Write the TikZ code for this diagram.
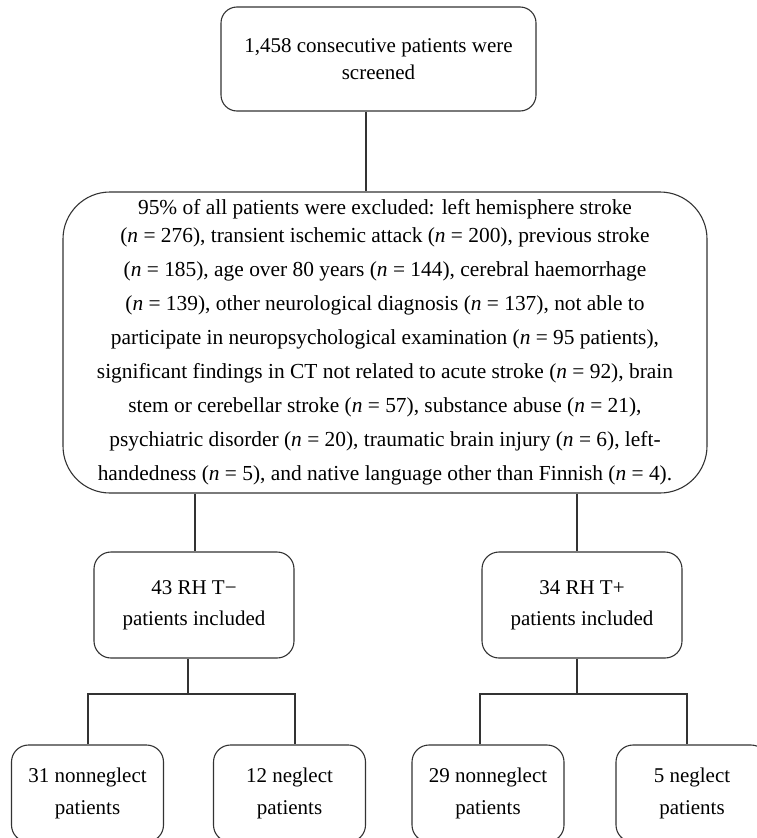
\documentclass[tikz,border=0pt]{standalone}
\usepackage{fontspec}
\setmainfont{Liberation Serif}
\begin{document}
\begin{tikzpicture}[x=1pt,y=-1pt,
  box/.style={draw=black!80, line width=1.1pt, rounded corners=#1, inner sep=0pt,
    align=center, font=\fontsize{21}{27}\selectfont},
  box/.default=17pt,
  conn/.style={draw=black!80, line width=1.1pt}]
\useasboundingbox (0,0) rectangle (757,838);

\node[box=16pt, minimum width=315pt, minimum height=104pt] (top) at (378.5,59)
  {1,458 consecutive patients were\\screened};

\node[box=47pt, minimum width=644pt, minimum height=301pt,
      font=\fontsize{21.4}{27}\selectfont] (excl) at (385,342.5)
  {95\% of all patients were excluded: left hemisphere stroke\\[1pt]
   (\textit{n}~=~276), transient ischemic attack (\textit{n}~=~200), previous stroke\\[7pt]
   (\textit{n}~=~185), age over 80 years (\textit{n}~=~144), cerebral haemorrhage\\[7pt]
   (\textit{n}~=~139), other neurological diagnosis (\textit{n}~=~137), not able to\\[7pt]
   participate in neuropsychological examination (\textit{n}~=~95 patients),\\[7pt]
   significant findings in CT not related to acute stroke (\textit{n}~=~92), brain\\[7pt]
   stem or cerebellar stroke (\textit{n}~=~57), substance abuse (\textit{n}~=~21),\\[7pt]
   psychiatric disorder (\textit{n}~=~20), traumatic brain injury (\textit{n}~=~6), left-\\[7pt]
   handedness (\textit{n}~=~5), and native language other than Finnish (\textit{n}~=~4).};

\node[box, minimum width=200pt, minimum height=106pt] (lm) at (194,605)
  {43 RH T−\\[4pt]patients included};
\node[box, minimum width=200pt, minimum height=106pt] (rm) at (582,605)
  {34 RH T+\\[4pt]patients included};

\node[box, minimum width=152pt, minimum height=97pt] (b1) at (87.5,793.5)
  {31 nonneglect\\[5pt]patients};
\node[box, minimum width=152pt, minimum height=97pt] (b2) at (289.5,793.5)
  {12 neglect\\[5pt]patients};
\node[box, minimum width=152pt, minimum height=97pt] (b3) at (488,793.5)
  {29 nonneglect\\[5pt]patients};
\node[box, minimum width=152pt, minimum height=97pt] (b4) at (692,793.5)
  {5 neglect\\[5pt]patients};

\coordinate (c0) at (366,0);
\coordinate (cL) at (195,0);
\coordinate (cR) at (577,0);
\coordinate (jL) at (188,694);
\coordinate (jR) at (577,694);
\coordinate (k1) at (88,694);
\coordinate (k2) at (295,694);
\coordinate (k3) at (480,694);
\coordinate (k4) at (687,694);

\draw[conn] (top.south -| c0) -- (excl.north -| c0);
\draw[conn] (excl.south -| cL) -- (lm.north -| cL);
\draw[conn] (excl.south -| cR) -- (rm.north -| cR);
\draw[conn] (lm.south -| jL) -- (jL);
\draw[conn] (rm.south -| jR) -- (jR);
\draw[conn] (b1.north -| k1) -- (k1) -- (k2) -- (b2.north -| k2);
\draw[conn] (b3.north -| k3) -- (k3) -- (k4) -- (b4.north -| k4);
\end{tikzpicture}
\end{document}
